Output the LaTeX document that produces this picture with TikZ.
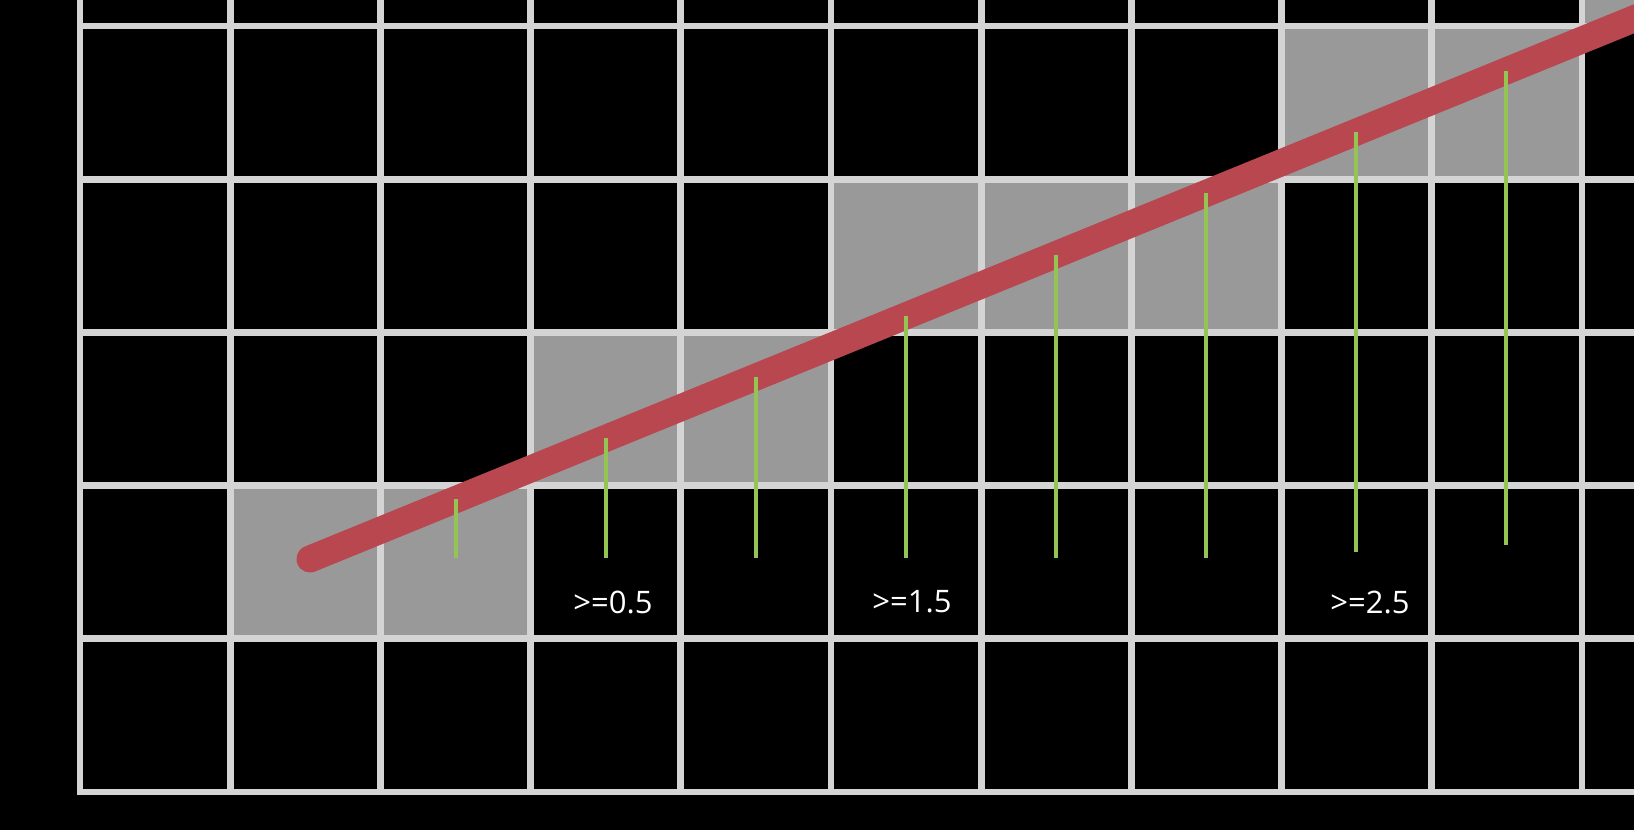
\documentclass[tikz,border=0pt]{standalone}
\usepackage{fontspec}
\setmainfont{Open Sans}
\definecolor{gridline}{HTML}{D4D4D4}
\definecolor{cellgray}{HTML}{999999}
\definecolor{redline}{HTML}{B94750}
\definecolor{greenline}{HTML}{94C454}
\tikzset{
  gridstyle/.style={draw=gridline, line width=3.4pt, line cap=rect},
  redstyle/.style={draw=redline, line width=13.5pt, line cap=round},
  greenstyle/.style={draw=greenline, line width=2.4pt},
  lbl/.style={text=white, font=\fontsize{15.5pt}{18pt}\selectfont, inner sep=0pt}
}
\begin{document}
\begin{tikzpicture}[x=0.5pt,y=-0.5pt]
\fill[black] (0,0) rectangle (1634,830);
\useasboundingbox (0,0) rectangle (1634,830);
\begin{scope}
\clip (0,0) rectangle (1634,830);
% gray cells
\foreach \c/\r in {1/3,2/3,3/2,4/2,5/1,6/1,7/1,8/0,9/0,10/-1}
  \fill[cellgray] ({80+150.2*\c},{26+153.2*\r}) rectangle ++(150.2,153.2);
% grid lines
\foreach \k in {0,...,11}
  \draw[gridstyle] ({80+150.2*\k},-10) -- ({80+150.2*\k},792);
\foreach \k in {0,...,5}
  \draw[gridstyle] (80,{26+153.2*\k}) -- (1660,{26+153.2*\k});
% red line
\coordinate (rs) at (310,559);
\coordinate (re) at (1700,{559-0.408*1390});
\draw[redstyle] (rs) -- (re);
% green lines
\foreach \i/\x/\b in {1/456/558,2/606/558,3/756/558,4/906/558,5/1056/558,6/1206/558,7/1356/552,8/1506/545} {
  \coordinate (gt\i) at (\x,{559-0.408*(\x-310)});
  \coordinate (gb\i) at (\x,\b);
  \draw[greenstyle] (gt\i) -- (gb\i);
}
\end{scope}
% labels
\node[lbl] (l1) at (613,602) {>=0.5};
\node[lbl] (l2) at (912,602) {>=1.5};
\node[lbl] (l3) at (1370,602) {>=2.5};
\end{tikzpicture}
\end{document}
